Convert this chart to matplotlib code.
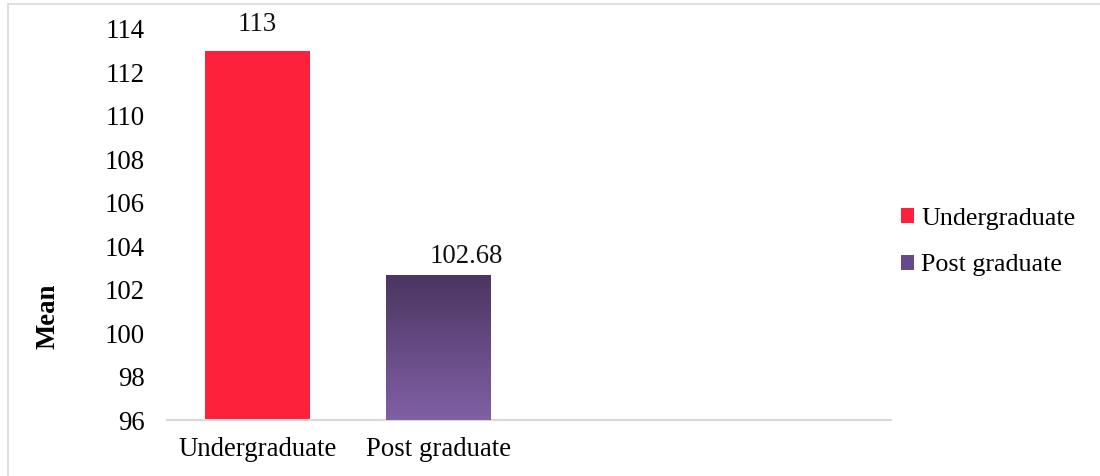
import matplotlib
matplotlib.use("Agg")
import matplotlib.pyplot as plt
import numpy as np
from matplotlib.patches import Patch, Rectangle
from matplotlib.colors import LinearSegmentedColormap

categories = ["Undergraduate", "Post graduate", "", ""]
series_names = ["Undergraduate", "Post graduate"]
values = [113, 102.68]
value_labels = ["113", "102.68"]
y_ticks = [96, 98, 100, 102, 104, 106, 108, 110, 112, 114]

plt.rcParams['font.family'] = ['Liberation Serif', 'DejaVu Serif']
FS = 19.3

fig = plt.figure(figsize=(11, 4.76), dpi=100)
ax = fig.add_axes([167/1100, 1-420/476, (891-167)/1100, (420-29)/476])

red = "#FE213B"
top_c = "#4B3561"
bot_c = "#8060A4"

x = np.arange(len(categories))
width = 0.575
bars = ax.bar(x[:2], values, width=width, bottom=0, color=[red, bot_c], zorder=2)

# gradient on second bar
cmap = LinearSegmentedColormap.from_list("pg", [bot_c, top_c])
b = bars[1]
grad = np.linspace(0, 1, 256).reshape(-1, 1)
x0, w = b.get_x(), b.get_width()
im = ax.imshow(grad, cmap=cmap, origin="lower", aspect="auto",
               extent=[x0, x0 + w, y_ticks[0], values[1]], zorder=3)
im.set_clip_path(b)

ax.set_xlim(-0.5, len(categories) - 0.5)
ax.set_ylim(y_ticks[0], y_ticks[-1])
ax.set_yticks(y_ticks)
ax.set_yticklabels([str(t) for t in y_ticks], fontsize=FS)
ax.set_xticks(x)
ax.set_xticklabels(categories, fontsize=FS)
ax.tick_params(axis='y', length=0, pad=16)
ax.tick_params(axis='x', length=0, pad=12)
for s in ["top", "right", "left"]:
    ax.spines[s].set_visible(False)
ax.spines["bottom"].set_color("#d9d9d9")
ax.spines["bottom"].set_linewidth(1.5)

label_offsets = [(0, 19), (20, 13)]
for xi, v, lab, off in zip(x[:2], values, value_labels, label_offsets):
    ax.annotate(lab, (xi, v), xytext=off, textcoords="offset points",
                ha="center", va="center", fontsize=FS, color="#111111")

fig.text(48/1100, 1-316/476, "Mean", rotation=90, fontsize=FS, fontweight="bold",
         ha="center", va="center")

handles = [Patch(facecolor=red), Patch(facecolor="#65498A")]
fig.legend(handles, series_names, loc="center left",
           bbox_to_anchor=(891/1100, 1-242/476), frameon=False, fontsize=18.7,
           handlelength=0.5, handleheight=0.5, handletextpad=0.27,
           labelspacing=0.95, borderaxespad=0)

fig.patches.append(Rectangle((8/1100, -0.1), 1.2, 1 - 4/476 + 0.1, transform=fig.transFigure,
                             fill=False, edgecolor="#d9d9d9", linewidth=1.2))

fig.savefig("out.png", dpi=100)
